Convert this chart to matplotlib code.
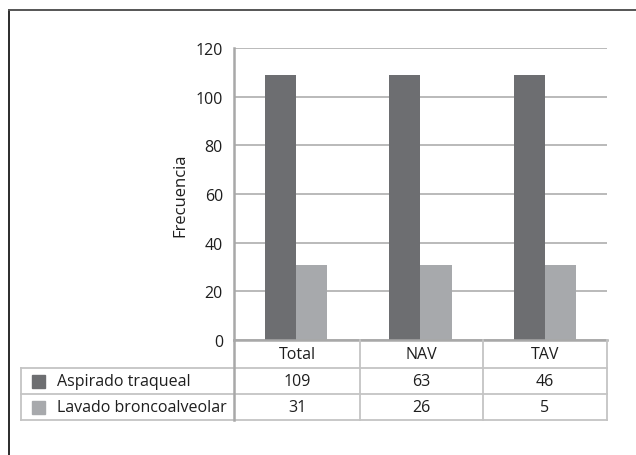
import matplotlib
matplotlib.use("Agg")
import matplotlib.pyplot as plt
from matplotlib.lines import Line2D
from matplotlib.patches import Rectangle
from matplotlib.transforms import IdentityTransform

plt.rcParams['font.family'] = ['Open Sans', 'DejaVu Sans']

categories = ["Total", "NAV", "TAV"]
series = ["Aspirado traqueal", "Lavado broncoalveolar"]
# values listed in the data table
aspirado = [109, 63, 46]
lavado = [31, 26, 5]
# heights plotted for the bars
bar_aspirado = [109, 109, 109]
bar_lavado = [31, 31, 31]
yticks = [0, 20, 40, 60, 80, 100, 120]

dark = "#6d6e71"
light = "#a7a9ac"
grid_c = "#b4b4b4"
table_c = "#c4c4c4"
text_c = "#1e1e1e"

W, H = 636, 456
fig = plt.figure(figsize=(W / 100, H / 100), dpi=100)
pix = IdentityTransform()


def hline(x0, x1, y, color=table_c, lw=1.3):
    fig.add_artist(Line2D([x0, x1], [H - y, H - y], transform=pix, color=color, lw=lw))


def vline(x, y0, y1, color=table_c, lw=1.3):
    fig.add_artist(Line2D([x, x], [H - y0, H - y1], transform=pix, color=color, lw=lw))


# outer frame
fig.add_artist(Line2D([9, 9], [H - 11, -5], transform=pix, color="#2b2b2b", lw=1.4))
fig.add_artist(Line2D([9, W + 5], [H - 11, H - 11], transform=pix, color="#555555", lw=1.4))

ax_l, ax_r, ax_t, ax_b = 234, 607, 49, 341
ax = fig.add_axes([ax_l / W, 1 - ax_b / H, (ax_r - ax_l) / W, (ax_b - ax_t) / H])

x = range(len(categories))
w = 0.25
ax.bar([i - w / 2 for i in x], bar_aspirado, width=w, color=dark, zorder=3)
ax.bar([i + w / 2 for i in x], bar_lavado, width=w, color=light, zorder=3)

ax.set_xlim(-0.5, len(categories) - 0.5)
ax.set_ylim(0, 120)
ax.set_yticks(yticks)
ax.set_xticks([])
ax.yaxis.grid(True, color=grid_c, lw=1.3, zorder=0)
for s in ["top", "right", "bottom"]:
    ax.spines[s].set_visible(False)
ax.spines["left"].set_color("#a8a8a8")
ax.spines["left"].set_linewidth(1.8)
ax.tick_params(axis="y", length=0, pad=8, labelsize=11.5, colors=text_c)
ax.set_ylabel("Frecuencia", fontsize=12, color=text_c, labelpad=5)

# data table under the axis
col_x = [234, 360, 483, 607]
rows_y = [341, 369, 395, 421]
tab_left = 21
hline(col_x[0], col_x[-1], rows_y[0], color="#a8a8a8", lw=1.8)
for y in rows_y[1:]:
    hline(tab_left, col_x[-1], y)
vline(tab_left, rows_y[1], rows_y[-1])
vline(col_x[0], rows_y[0], rows_y[-1], color="#a8a8a8", lw=1.8)
for cx in col_x[1:]:
    vline(cx, rows_y[0], rows_y[-1])

txt_kw = dict(transform=pix, fontsize=11.5, color=text_c, va="center")
for j, cat in enumerate(categories):
    cx = (col_x[j] + col_x[j + 1]) / 2
    fig.text(cx, H - (rows_y[0] + rows_y[1]) / 2, cat, ha="center", **txt_kw)
    fig.text(cx, H - (rows_y[1] + rows_y[2]) / 2, str(aspirado[j]), ha="center", **txt_kw)
    fig.text(cx, H - (rows_y[2] + rows_y[3]) / 2, str(lavado[j]), ha="center", **txt_kw)

for k, (name, col) in enumerate(zip(series, [dark, light])):
    yc = (rows_y[k + 1] + rows_y[k + 2]) / 2
    fig.add_artist(Rectangle((32, H - yc - 6.5), 13, 13, transform=pix, color=col))
    fig.text(57, H - yc, name, ha="left", **txt_kw)

fig.savefig("out.png", dpi=100)
